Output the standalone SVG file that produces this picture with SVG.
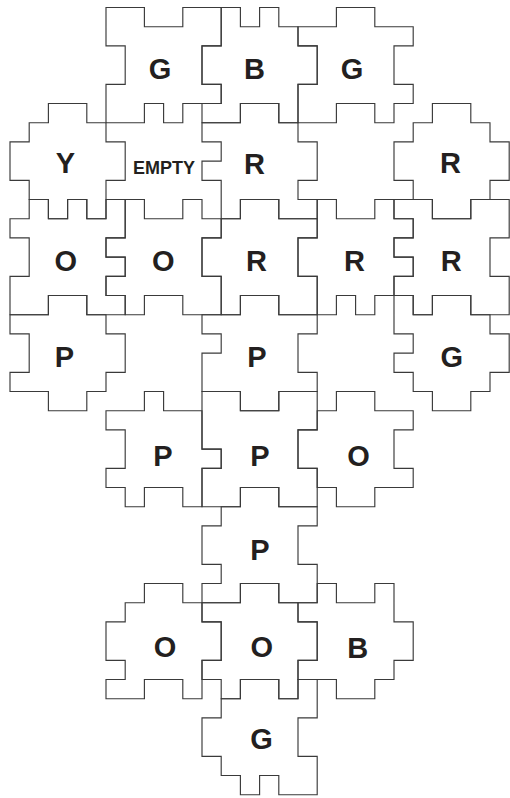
<svg xmlns="http://www.w3.org/2000/svg" width="510" height="798" viewBox="0 0 510 798">
<style>
.pc{fill:none;stroke:#3a3a3a;stroke-width:1.15;vector-effect:non-scaling-stroke;stroke-linejoin:miter}
.lb{font-family:"Liberation Sans",Arial,Helvetica,sans-serif;font-weight:bold;font-size:29px;fill:#231f20;text-anchor:middle}
.sm{font-size:18.5px}
</style>
<rect x="0" y="0" width="510" height="798" fill="#ffffff"/>
<g id="connectors"/>
<g id="r0c1"><polygon class="pc" transform="matrix(19.2 0 0 19.2 10 7.5)" points="5,0 7,0 7,1 9,1 9,0 11,0 11,2 10,2 10,4 11,4 11,5 9,5 9,6 8,6 8,5 7,5 7,6 5,6 5,4 6,4 6,2 5,2"/><text class="lb" x="160" y="78.5">G</text></g>
<g id="r0c2"><polygon class="pc" transform="matrix(19.2 0 0 19.2 10 7.5)" points="11,0 12,0 12,1 13,1 13,0 14,0 14,1 15,1 15,2 16,2 16,4 15,4 15,6 14,6 14,5 12,5 12,6 10,6 10,5 11,5 11,4 10,4 10,2 11,2"/><text class="lb" x="254.5" y="79">B</text></g>
<g id="r0c3"><polygon class="pc" transform="matrix(19.2 0 0 19.2 10 7.5)" points="15,1 17,1 17,0 19,0 19,1 21,1 21,2 20,2 20,4 21,4 21,5 20,5 20,6 19,6 19,5 17,5 17,6 15,6 15,4 16,4 16,2 15,2"/><text class="lb" x="352" y="78.5">G</text></g>
<g id="r1c0"><polygon class="pc" transform="matrix(19.2 0 0 19.2 10 7.5)" points="1,6 2,6 2,5 4,5 4,6 5,6 5,7 6,7 6,9 5,9 5,11 4,11 4,10 3,10 3,11 2,11 2,10 1,10 1,9 0,9 0,7 1,7"/><text class="lb" x="65.3" y="173">Y</text></g>
<g id="r1c1"><text class="lb sm" x="164" y="173.5" textLength="62" lengthAdjust="spacingAndGlyphs">EMPTY</text></g>
<g id="r1c2"><polygon class="pc" transform="matrix(19.2 0 0 19.2 10 7.5)" points="10,6 12,6 12,5 14,5 14,6 15,6 15,7 16,7 16,9 15,9 15,10 16,10 16,11 14,11 14,10 12,10 12,11 11,11 11,9 10,9 10,8 11,8 11,7 10,7"/><text class="lb" x="254.5" y="173.5">R</text></g>
<g id="r1c4"><polygon class="pc" transform="matrix(19.2 0 0 19.2 10 7.5)" points="21,6 22,6 22,5 24,5 24,6 25,6 25,7 26,7 26,9 25,9 25,10 24,10 24,11 22,11 22,10 21,10 21,9 20,9 20,7 21,7"/><text class="lb" x="450.5" y="172.5">R</text></g>
<g id="r2c0"><polygon class="pc" transform="matrix(19.2 0 0 19.2 10 7.5)" points="1,10 2,10 2,11 3,11 3,10 4,10 4,11 5,11 5,10 6,10 6,12 5,12 5,13 6,13 6,14 5,14 5,15 6,15 6,16 4,16 4,15 2,15 2,16 0,16 0,14 1,14 1,12 0,12 0,11 1,11"/><text class="lb" x="65.8" y="271">O</text></g>
<g id="r2c1"><polygon class="pc" transform="matrix(19.2 0 0 19.2 10 7.5)" points="6,10 7,10 7,11 9,11 9,10 10,10 10,11 11,11 11,12 10,12 10,14 11,14 11,16 9,16 9,15 7,15 7,16 6,16 6,15 5,15 5,14 6,14 6,13 5,13 5,12 6,12"/><text class="lb" x="163.2" y="271">O</text></g>
<g id="r2c2"><polygon class="pc" transform="matrix(19.2 0 0 19.2 10 7.5)" points="11,11 12,11 12,10 14,10 14,11 16,11 16,12 15,12 15,14 16,14 16,16 14,16 14,15 12,15 12,16 11,16 11,14 10,14 10,12 11,12"/><text class="lb" x="256.5" y="271">R</text></g>
<g id="r2c3"><polygon class="pc" transform="matrix(19.2 0 0 19.2 10 7.5)" points="16,10 17,10 17,11 19,11 19,10 20,10 20,11 21,11 21,12 20,12 20,13 21,13 21,14 20,14 20,15 19,15 19,16 18,16 18,15 17,15 17,16 16,16 16,14 15,14 15,12 16,12"/><text class="lb" x="354.5" y="271.2">R</text></g>
<g id="r2c4"><polygon class="pc" transform="matrix(19.2 0 0 19.2 10 7.5)" points="20,10 22,10 22,11 24,11 24,10 26,10 26,12 25,12 25,14 26,14 26,16 24,16 24,15 22,15 22,16 21,16 21,15 20,15 20,14 21,14 21,13 20,13 20,12 21,12 21,11 20,11"/><text class="lb" x="451.3" y="271">R</text></g>
<g id="r3c0"><polygon class="pc" transform="matrix(19.2 0 0 19.2 10 7.5)" points="0,16 2,16 2,15 4,15 4,16 5,16 5,17 6,17 6,19 5,19 5,20 4,20 4,21 2,21 2,20 0,20 0,19 1,19 1,17 0,17"/><text class="lb" x="64.5" y="366.5">P</text></g>
<g id="r3c2"><polygon class="pc" transform="matrix(19.2 0 0 19.2 10 7.5)" points="10,16 12,16 12,15 14,15 14,16 16,16 16,17 15,17 15,19 16,19 16,20 14,20 14,21 12,21 12,20 10,20 10,18 11,18 11,17 10,17"/><text class="lb" x="256.8" y="366.8">P</text></g>
<g id="r3c4"><polygon class="pc" transform="matrix(19.2 0 0 19.2 10 7.5)" points="20,15 21,15 21,16 22,16 22,15 24,15 24,16 25,16 25,17 26,17 26,19 25,19 25,20 24,20 24,21 22,21 22,20 21,20 21,19 20,19 20,18 21,18 21,17 20,17"/><text class="lb" x="451.8" y="366.8">G</text></g>
<g id="r4c1"><polygon class="pc" transform="matrix(19.2 0 0 19.2 10 7.5)" points="5,21 7,21 7,20 8,20 8,21 10,21 10,23 11,23 11,24 10,24 10,26 9,26 9,25 7,25 7,26 6,26 6,25 5,25 5,24 6,24 6,22 5,22"/><text class="lb" x="162.8" y="466.2">P</text></g>
<g id="r4c2"><polygon class="pc" transform="matrix(19.2 0 0 19.2 10 7.5)" points="10,20 12,20 12,21 14,21 14,20 16,20 16,22 15,22 15,24 16,24 16,26 14,26 14,25 12,25 12,26 10,26 10,24 11,24 11,23 10,23"/><text class="lb" x="260" y="466.2">P</text></g>
<g id="r4c3"><polygon class="pc" transform="matrix(19.2 0 0 19.2 10 7.5)" points="16,21 17,21 17,20 19,20 19,21 21,21 21,22 20,22 20,24 21,24 21,25 19,25 19,26 17,26 17,25 16,25 16,24 15,24 15,22 16,22"/><text class="lb" x="358.5" y="466.2">O</text></g>
<g id="r5c2"><polygon class="pc" transform="matrix(19.2 0 0 19.2 10 7.5)" points="11,26 12,26 12,25 14,25 14,26 16,26 16,27 15,27 15,29 16,29 16,31 14,31 14,30 12,30 12,31 10,31 10,30 11,30 11,29 10,29 10,27 11,27"/><text class="lb" x="260" y="560.4">P</text></g>
<g id="r6c1"><polygon class="pc" transform="matrix(19.2 0 0 19.2 10 7.5)" points="6,31 7,31 7,30 9,30 9,31 10,31 10,32 11,32 11,34 10,34 10,36 9,36 9,35 7,35 7,36 5,36 5,35 6,35 6,34 5,34 5,32 6,32"/><text class="lb" x="165" y="657.1">O</text></g>
<g id="r6c2"><polygon class="pc" transform="matrix(19.2 0 0 19.2 10 7.5)" points="10,31 12,31 12,30 14,30 14,31 15,31 15,32 16,32 16,34 15,34 15,36 14,36 14,35 12,35 12,36 11,36 11,35 10,35 10,34 11,34 11,32 10,32"/><text class="lb" x="261.8" y="657.1">O</text></g>
<g id="r6c3"><polygon class="pc" transform="matrix(19.2 0 0 19.2 10 7.5)" points="16,30 17,30 17,31 19,31 19,30 20,30 20,32 21,32 21,34 20,34 20,35 19,35 19,36 17,36 17,35 15,35 15,34 16,34 16,32 15,32 15,31 16,31"/><text class="lb" x="357.8" y="657.7">B</text></g>
<g id="r7c2"><polygon class="pc" transform="matrix(19.2 0 0 19.2 10 7.5)" points="11,36 12,36 12,35 14,35 14,36 15,36 15,35 16,35 16,37 15,37 15,39 16,39 16,41 14,41 14,40 13,40 13,41 12,41 12,40 11,40 11,39 10,39 10,37 11,37"/><text class="lb" x="261.5" y="749.1">G</text></g>
</svg>
